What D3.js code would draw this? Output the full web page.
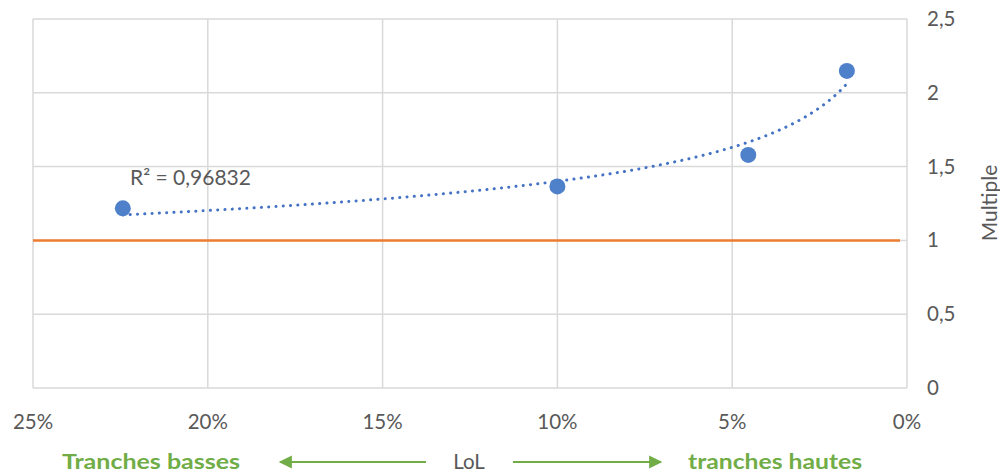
<!DOCTYPE html>
<html><head><meta charset="utf-8">
<script src="https://cdn.jsdelivr.net/npm/d3@7"></script>
<style>body{margin:0;background:#fff}svg{display:block}text{font-family:Lato,"Open Sans",sans-serif}</style>
</head><body>
<svg id="c" width="1000" height="474"></svg>
<script>
const lolValues = [0.2243, 0.100, 0.0454, 0.0172];
const multipleValues = [1.217, 1.366, 1.579, 2.148];
const xTicks = [0.25, 0.20, 0.15, 0.10, 0.05, 0];
const yTicks = [0, 0.5, 1, 1.5, 2, 2.5];
const referenceLevel = [1];
const r2Label = ["R² = 0,96832"];

const svg = d3.select("#c");
const L = 33, R = 907, T = 19, B = 388;
const x = d3.scaleLinear().domain([0.25, 0]).range([L, R]);
const y = d3.scaleLinear().domain([0, 2.5]).range([B, T]);
const grid = "#D9D9D9", txt = "#595959", green = "#70AD47", blue = "#4472C4";

// grid
svg.append("g").selectAll("line").data(xTicks).join("line")
  .attr("x1", d => x(d)).attr("x2", d => x(d)).attr("y1", T).attr("y2", B)
  .attr("stroke", grid).attr("stroke-width", 1.5);
svg.append("g").selectAll("line").data(yTicks).join("line")
  .attr("x1", L).attr("x2", R).attr("y1", d => y(d)).attr("y2", d => y(d))
  .attr("stroke", grid).attr("stroke-width", 1.5);

// axes labels
const fmtPct = d => Math.round(d * 100) + "%";
svg.append("g").selectAll("text").data(xTicks).join("text")
  .attr("x", d => x(d)).attr("y", 429).attr("text-anchor", "middle")
  .attr("fill", txt).attr("font-size", 20.5).text(fmtPct);
const fmtY = d => String(d).replace(".", ",");
svg.append("g").selectAll("text").data(yTicks).join("text")
  .attr("x", 927).attr("y", d => y(d) + 7).attr("text-anchor", "start")
  .attr("fill", txt).attr("font-size", 20.5).text(fmtY);

svg.append("text").attr("transform", `translate(997,${203}) rotate(-90)`)
  .attr("text-anchor", "middle").attr("fill", txt).attr("font-size", 21).text("Multiple");

// reference line
svg.append("g").selectAll("line").data(referenceLevel).join("line")
  .attr("x1", L).attr("x2", 900).attr("y1", d => y(d)).attr("y2", d => y(d))
  .attr("stroke", "#ED7D31").attr("stroke-width", 2.5);

// power trendline fitted from the data: y = b * x^a
const lx = lolValues.map(Math.log), ly = multipleValues.map(Math.log);
const mx = d3.mean(lx), my = d3.mean(ly);
const a = d3.sum(lx.map((v, i) => (v - mx) * (ly[i] - my))) / d3.sum(lx.map(v => (v - mx) ** 2));
const bl = my - a * mx;
const lo = Math.log(d3.max(lolValues)), hi = Math.log(d3.min(lolValues));
const xs = d3.range(0, 201).map(i => Math.exp(lo + (hi - lo) * i / 200));
svg.append("path").datum(xs)
  .attr("d", d3.line().x(d => x(d)).y(d => y(Math.exp(bl) * Math.pow(d, a))))
  .attr("fill", "none").attr("stroke", blue).attr("stroke-width", 3)
  .attr("stroke-linecap", "round").attr("stroke-dasharray", "0.1 7.2");

// points
svg.append("g").selectAll("circle").data(lolValues).join("circle")
  .attr("cx", d => x(d)).attr("cy", (d, i) => y(multipleValues[i])).attr("r", 8)
  .attr("fill", "#4F81CB");

svg.append("text").attr("x", 130).attr("y", 185).attr("fill", txt)
  .attr("font-size", 21).text(r2Label[0]);

// bottom annotations
svg.append("defs").html(`<marker id="ah" viewBox="0 0 10 10" refX="9" refY="5" markerWidth="7" markerHeight="6" markerUnits="strokeWidth" orient="auto"><path d="M0,0L10,5L0,10z" fill="${green}"/></marker>`);
svg.append("line").attr("x1", 426).attr("x2", 280).attr("y1", 462).attr("y2", 462)
  .attr("stroke", green).attr("stroke-width", 2.2).attr("marker-end", "url(#ah)");
svg.append("line").attr("x1", 513).attr("x2", 661).attr("y1", 462).attr("y2", 462)
  .attr("stroke", green).attr("stroke-width", 2.2).attr("marker-end", "url(#ah)");
svg.append("text").attr("x", 62).attr("y", 469).attr("fill", green).attr("font-weight", "bold")
  .attr("font-size", 21).attr("textLength", 178).attr("lengthAdjust", "spacingAndGlyphs")
  .text("Tranches basses");
svg.append("text").attr("x", 688).attr("y", 469).attr("fill", green).attr("font-weight", "bold")
  .attr("font-size", 21).attr("textLength", 174).attr("lengthAdjust", "spacingAndGlyphs")
  .text("tranches hautes");
svg.append("text").attr("x", 469).attr("y", 469).attr("text-anchor", "middle").attr("fill", txt)
  .attr("font-size", 20.5).text("LoL");
</script>
</body></html>
